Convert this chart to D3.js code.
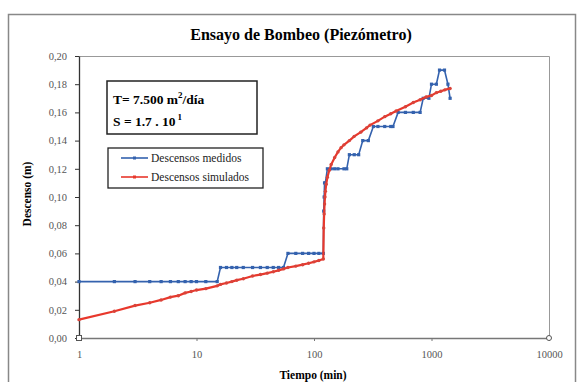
<!DOCTYPE html>
<html>
<head>
<meta charset="utf-8">
<script src="https://cdn.jsdelivr.net/npm/d3@7"></script>
<style>
  body { margin: 0; background: #fff; }
  text { font-family: "Liberation Serif", "DejaVu Serif", serif; }
</style>
</head>
<body>
<svg id="chart" width="582" height="382"></svg>
<script>
// measured drawdown (blue)
var medTiempo = [1, 2, 3, 4, 5, 6, 7, 8, 9, 10, 12, 15, 16, 18, 20, 22, 25, 30, 35, 40, 45, 50, 55,
    60, 70, 80, 90, 100, 110, 120, 121, 122, 123, 125, 130, 140, 150, 160, 180, 190, 200, 220, 240,
    260, 290, 320, 350, 400, 450, 470, 520, 600, 700, 800, 850, 950, 1000, 1100, 1170, 1290, 1380, 1440];
var medDescenso = [0.04, 0.04, 0.04, 0.04, 0.04, 0.04, 0.04, 0.04, 0.04, 0.04, 0.04, 0.04, 0.05, 0.05, 0.05, 0.05, 0.05, 0.05, 0.05, 0.05, 0.05, 0.05, 0.05,
    0.06, 0.06, 0.06, 0.06, 0.06, 0.06, 0.06, 0.09, 0.10, 0.11, 0.11, 0.12, 0.12, 0.12, 0.12, 0.12, 0.12, 0.13, 0.13, 0.13,
    0.14, 0.14, 0.15, 0.15, 0.15, 0.15, 0.15, 0.16, 0.16, 0.16, 0.16, 0.17, 0.17, 0.18, 0.18, 0.19, 0.19, 0.18, 0.17];

// simulated drawdown (red)
var simTiempo = [1, 2, 3, 4, 5, 6, 7, 8, 9, 10, 12, 15, 16, 18, 20, 22, 25, 30, 35, 40, 45, 50, 55,
    60, 70, 80, 90, 100, 110, 120, 121, 122, 123, 124, 125, 127, 130, 135, 140, 150, 160, 170, 180,
    200, 220, 250, 280, 300, 350, 400, 450, 500, 600, 700, 800, 900, 1000, 1100, 1200, 1300, 1440];
var simDescenso = [0.013, 0.019, 0.023, 0.025, 0.027, 0.029, 0.030, 0.032, 0.033, 0.034, 0.035, 0.037, 0.038, 0.039, 0.040, 0.041, 0.042, 0.044, 0.045, 0.046, 0.047, 0.048, 0.049,
    0.050, 0.051, 0.052, 0.053, 0.054, 0.055, 0.056, 0.078, 0.088, 0.095, 0.100, 0.104, 0.109, 0.114, 0.119, 0.123, 0.128, 0.132, 0.135, 0.137,
    0.140, 0.143, 0.146, 0.149, 0.151, 0.154, 0.157, 0.159, 0.161, 0.164, 0.167, 0.169, 0.171, 0.172, 0.174, 0.175, 0.176, 0.177];

var yTicks = [0, 0.02, 0.04, 0.06, 0.08, 0.10, 0.12, 0.14, 0.16, 0.18, 0.20];
var xTicks = [1, 10, 100, 1000, 10000];

var svg = d3.select("#chart");
var plotLeft = 79, plotRight = 549, plotTop = 56, plotBottom = 338;

var x = d3.scaleLog().domain([1, 10000]).range([plotLeft, plotRight]);
var y = d3.scaleLinear().domain([0, 0.2]).range([plotBottom, plotTop]);

// outer frame
svg.append("rect")
    .attr("x", 8.5).attr("y", 14.5)
    .attr("width", 567).attr("height", 390)
    .attr("fill", "none").attr("stroke", "#888").attr("stroke-width", 1.5);

// plot area border (top/right)
svg.append("path")
    .attr("d", "M" + plotLeft + "," + (plotTop + 0.5) + "H" + (plotRight + 0.5) + "V" + plotBottom)
    .attr("fill", "none").attr("stroke", "#999").attr("stroke-width", 1);

var fmt = function(d) { return d3.format(".2f")(d).replace(".", ","); };

var yAxis = svg.append("g")
    .attr("transform", "translate(" + plotLeft + ",0)")
    .call(d3.axisLeft(y).tickValues(yTicks).tickFormat(fmt).tickSize(4).tickSizeOuter(0));
yAxis.select(".domain").attr("stroke", "#333").attr("stroke-width", 1.3);
yAxis.selectAll(".tick line").attr("stroke", "#333");
yAxis.selectAll("text").attr("fill", "#555").style("font-size", "10.5px")
    .style("font-family", "Liberation Serif, serif").attr("x", -12);

var xAxis = svg.append("g")
    .attr("transform", "translate(0," + plotBottom + ")")
    .call(d3.axisBottom(x).tickValues(xTicks).tickFormat(d3.format("d")).tickSize(3).tickSizeOuter(0));
xAxis.select(".domain").attr("stroke", "#777").attr("stroke-width", 1.3);
xAxis.selectAll(".tick line").attr("stroke", "#777");
xAxis.selectAll("text").attr("fill", "#555").style("font-size", "10.5px")
    .style("font-family", "Liberation Serif, serif").attr("y", 13);

// corner markers
svg.append("rect").attr("x", x(1) - 2.5).attr("y", y(0) - 2.5).attr("width", 5).attr("height", 5)
    .attr("fill", "#fff").attr("stroke", "#555");
svg.append("circle").attr("cx", x(10000)).attr("cy", y(0)).attr("r", 2.5)
    .attr("fill", "#fff").attr("stroke", "#555");

var med = medTiempo.map(function(t, i) { return {t: t, v: medDescenso[i]}; });
var sim = simTiempo.map(function(t, i) { return {t: t, v: simDescenso[i]}; });

var line = d3.line()
    .x(function(d) { return x(d.t); })
    .y(function(d) { return y(d.v); });

var blue = "#3462ae", red = "#e8382c";

svg.append("path").datum(med).attr("d", line)
    .attr("fill", "none").attr("stroke", blue).attr("stroke-width", 1.6);
svg.append("g").selectAll("rect").data(med).enter().append("rect")
    .attr("x", function(d) { return x(d.t) - 1.6; })
    .attr("y", function(d) { return y(d.v) - 1.6; })
    .attr("width", 3.2).attr("height", 3.2)
    .attr("fill", blue);

svg.append("path").datum(sim).attr("d", line)
    .attr("fill", "none").attr("stroke", red).attr("stroke-width", 2.2);
svg.append("g").selectAll("circle").data(sim).enter().append("circle")
    .attr("cx", function(d) { return x(d.t); })
    .attr("cy", function(d) { return y(d.v); })
    .attr("r", 1.7)
    .attr("fill", "#d9433a");

// title
svg.append("text")
    .attr("x", 301).attr("y", 40)
    .attr("text-anchor", "middle")
    .style("font-size", "16px").style("font-weight", "bold")
    .text("Ensayo de Bombeo (Piezómetro)");

// axis titles
svg.append("text")
    .attr("transform", "translate(31,194) rotate(-90)")
    .attr("text-anchor", "middle")
    .style("font-size", "11.5px").style("font-weight", "bold")
    .text("Descenso (m)");
svg.append("text")
    .attr("x", 313).attr("y", 379)
    .attr("text-anchor", "middle")
    .style("font-size", "11.5px").style("font-weight", "bold")
    .text("Tiempo (min)");

// parameters box
svg.append("rect")
    .attr("x", 107).attr("y", 81).attr("width", 150).attr("height", 53)
    .attr("fill", "#fff").attr("stroke", "#222").attr("stroke-width", 1.5);
var t1 = svg.append("text").attr("x", 113).attr("y", 104)
    .style("font-size", "13.5px").style("font-weight", "bold");
t1.append("tspan").text("T= 7.500 m");
t1.append("tspan").attr("dy", -6).style("font-size", "9px").text("2");
t1.append("tspan").attr("dy", 6).text("/día");
var t2 = svg.append("text").attr("x", 113).attr("y", 126)
    .style("font-size", "13.5px").style("font-weight", "bold");
t2.append("tspan").text("S = 1.7 . 10");
t2.append("tspan").attr("dx", 2).attr("dy", -6).style("font-size", "9px").text("1");

// legend
svg.append("rect")
    .attr("x", 108).attr("y", 148).attr("width", 155).attr("height", 40)
    .attr("fill", "#fff").attr("stroke", "#222").attr("stroke-width", 1.3);
var legend = [
    {label: "Descensos medidos", color: blue, y: 158},
    {label: "Descensos simulados", color: red, y: 177}
];
legend.forEach(function(l) {
    svg.append("line").attr("x1", 121).attr("x2", 148).attr("y1", l.y).attr("y2", l.y)
        .attr("stroke", l.color).attr("stroke-width", 1.6);
    svg.append("rect").attr("x", 133).attr("y", l.y - 1.5).attr("width", 3).attr("height", 3)
        .attr("fill", l.color);
    svg.append("text").attr("x", 151).attr("y", l.y + 4)
        .style("font-size", "11.5px").attr("fill", "#222")
        .text(l.label);
});
</script>
</body>
</html>
